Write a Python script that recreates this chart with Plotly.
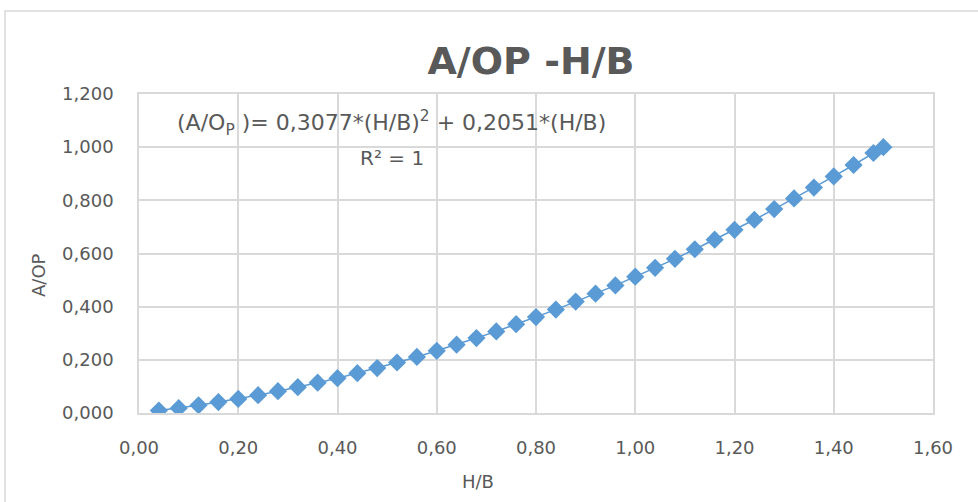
import plotly.graph_objects as go

hb = [0.04, 0.08, 0.12, 0.16, 0.20, 0.24, 0.28, 0.32, 0.36, 0.40, 0.44, 0.48,
      0.52, 0.56, 0.60, 0.64, 0.68, 0.72, 0.76, 0.80, 0.84, 0.88, 0.92, 0.96,
      1.00, 1.04, 1.08, 1.12, 1.16, 1.20, 1.24, 1.28, 1.32, 1.36, 1.40, 1.44,
      1.48, 1.50]
aop = [0.009, 0.018, 0.029, 0.041, 0.053, 0.067, 0.082, 0.097, 0.114, 0.131,
       0.150, 0.169, 0.190, 0.211, 0.234, 0.257, 0.282, 0.307, 0.334, 0.361,
       0.389, 0.419, 0.449, 0.480, 0.513, 0.546, 0.580, 0.616, 0.652, 0.689,
       0.727, 0.767, 0.807, 0.848, 0.890, 0.933, 0.978, 1.000]

title_text = "A/OP -H/B"
x_title = "H/B"
y_title = "A/OP"
eq_text = "(A/O<sub>P</sub> )= 0,3077*(H/B)<sup>2</sup> + 0,2051*(H/B)"
r2_text = "R² = 1"

grey = "#595959"
grid = "#d9d9d9"
blue = "#5b9bd5"
font = "DejaVu Sans"

fig = go.Figure()
fig.add_trace(go.Scatter(x=hb, y=aop, mode="lines", line=dict(color=blue, width=1.5),
                         showlegend=False, hoverinfo="skip"))
fig.add_trace(go.Scatter(x=hb, y=aop, mode="markers",
                         marker=dict(symbol="diamond", size=14, color=blue, line=dict(width=0)),
                         showlegend=False))

L, R, T, B = 139, 45, 94, 89
W, H = 978, 502
pw, ph = W - L - R, H - T - B

fig.update_layout(
    width=W, height=H,
    margin=dict(l=L, r=R, t=T, b=B),
    paper_bgcolor="white", plot_bgcolor="white",
    separators=",.",
    font=dict(family=font, size=18, color=grey),
    title=dict(text="<b>" + title_text + "</b>", x=531 / W, y=1 - 61 / H,
               xanchor="center", yanchor="middle", xref="container",
               font=dict(family=font, size=38, color=grey)),
    xaxis=dict(range=[0, 1.6], dtick=0.2, tick0=0, tickformat=".2f",
               showgrid=True, gridcolor=grid, gridwidth=1.5,
               showline=True, mirror=True, linecolor=grid, linewidth=1.5,
               zeroline=False, ticks="", ticklabelstandoff=18,
               tickfont=dict(family=font, size=18, color=grey)),
    yaxis=dict(range=[0, 1.2], dtick=0.2, tick0=0, tickformat=".3f",
               showgrid=True, gridcolor=grid, gridwidth=1.5,
               showline=True, mirror=True, linecolor=grid, linewidth=1.5,
               zeroline=False, ticks="", ticklabelstandoff=20,
               tickfont=dict(family=font, size=18, color=grey)),
)

def px_x(p):
    return (p - L) / pw

def px_y(p):
    return (H - B - p) / ph

fig.add_annotation(text=eq_text, x=px_x(391), y=px_y(123), xref="paper", yref="paper",
                   showarrow=False, xanchor="center", yanchor="middle",
                   font=dict(family=font, size=22, color=grey))
fig.add_annotation(text=r2_text, x=px_x(392), y=px_y(158), xref="paper", yref="paper",
                   showarrow=False, xanchor="center", yanchor="middle",
                   font=dict(family=font, size=20, color=grey))
fig.add_annotation(text=x_title, x=px_x(478), y=px_y(481), xref="paper", yref="paper",
                   showarrow=False, xanchor="center", yanchor="middle",
                   font=dict(family=font, size=18, color=grey))
fig.add_annotation(text=y_title, x=px_x(38), y=px_y(275), xref="paper", yref="paper",
                   showarrow=False, xanchor="center", yanchor="middle", textangle=-90,
                   font=dict(family=font, size=18, color=grey))

fig.add_shape(type="rect", xref="paper", yref="paper",
              x0=px_x(5), x1=px_x(990), y0=px_y(515), y1=px_y(11),
              line=dict(color=grid, width=1.5), fillcolor="rgba(0,0,0,0)", layer="below")

fig.write_html("out.html")
